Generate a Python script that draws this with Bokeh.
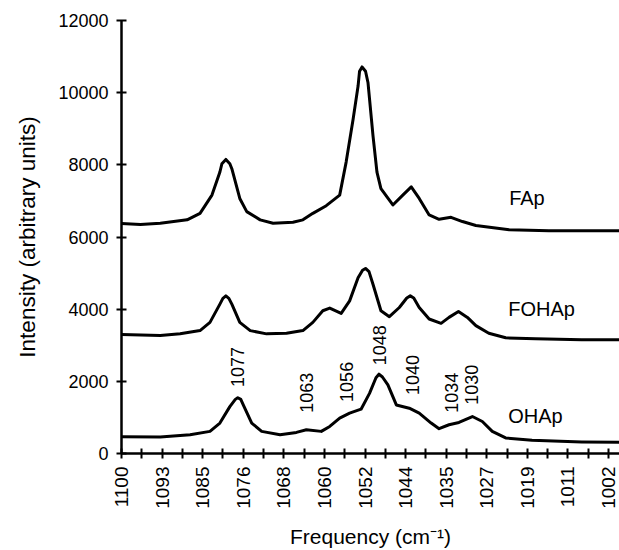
import math
from bokeh.plotting import figure
from bokeh.models import Range1d, FixedTicker
from bokeh.core.properties import value
from bokeh.embed import file_html
from bokeh.resources import INLINE

# ---- data ----
fap_freq = [1100.0, 1096.2, 1092.2, 1086.8, 1084.2, 1081.8, 1080.2, 1079.8, 1079.0, 1078.2, 1077.8,
            1076.2, 1074.8, 1072.1, 1069.5, 1065.5, 1063.5, 1061.5, 1058.8, 1056.1, 1054.8,
            1053.4, 1052.4, 1052.1, 1051.6, 1050.9, 1050.4, 1049.4, 1048.6, 1047.8, 1045.4,
            1043.4, 1041.7, 1040.1, 1038.1, 1036.1, 1033.7, 1031.4, 1028.7, 1022.0, 1014.0, 999.8]
fap_int = [6373, 6345, 6381, 6475, 6656, 7161, 7801, 8030, 8150, 8030, 7892,
           7068, 6703, 6475, 6381, 6409, 6475, 6656, 6868, 7161, 8076,
           9266, 10183, 10595, 10713, 10595, 10274, 8810, 7800, 7343, 6887,
           7161, 7389, 7068, 6612, 6491, 6546, 6428, 6318, 6200, 6172, 6172]

fohap_freq = [1100.0, 1092.2, 1088.2, 1084.2, 1082.2, 1080.2, 1079.6, 1079.0, 1078.4, 1077.8,
              1076.2, 1074.1, 1070.8, 1066.8, 1063.5, 1061.5, 1059.5, 1058.1, 1055.8, 1054.1,
              1052.4, 1051.5, 1050.9, 1050.2, 1049.4, 1047.8, 1046.1, 1044.1, 1042.6, 1041.9,
              1041.2, 1040.1, 1038.1, 1035.7, 1034.1, 1032.2, 1030.4, 1028.7, 1026.1, 1022.7,
              1016.7, 1007.4, 999.8]
fohap_int = [3296, 3269, 3316, 3406, 3634, 4140, 4300, 4368, 4300, 4140,
             3634, 3406, 3316, 3332, 3406, 3634, 3956, 4030, 3881, 4230,
             4870, 5080, 5129, 5040, 4690, 3956, 3791, 4046, 4310, 4368,
             4310, 4046, 3728, 3607, 3772, 3936, 3772, 3544, 3332, 3206,
             3178, 3151, 3151]

ohap_freq = [1100.0, 1092.2, 1086.2, 1082.2, 1080.2, 1078.2, 1077.1, 1076.6, 1076.0, 1075.5,
             1073.8, 1071.8, 1068.1, 1064.8, 1062.8, 1059.8, 1058.1, 1056.1, 1054.1, 1051.8,
             1050.1, 1048.8, 1048.2, 1047.5, 1046.4, 1044.7, 1042.1, 1040.1, 1037.7, 1036.1,
             1034.1, 1032.1, 1029.4, 1027.4, 1025.4, 1022.7, 1017.4, 1007.4, 999.8]
ohap_int = [467, 459, 522, 613, 843, 1299, 1500, 1547, 1500, 1346,
            843, 613, 522, 585, 659, 613, 750, 981, 1118, 1228,
            1667, 2100, 2198, 2120, 1900, 1346, 1255, 1118, 843, 687,
            797, 860, 1025, 887, 613, 431, 365, 321, 310]

series_names = ["FAp", "FOHAp", "OHAp"]
series_label_freq = [1022.0, 1022.2, 1022.2]
series_label_int = [7068, 4015, 1027]

peak_labels = ["1077", "1063", "1056", "1048", "1040", "1034", "1030"]
peak_label_freq = [1076.6, 1062.7, 1054.7, 1048.1, 1041.5, 1033.7, 1029.5]
peak_label_int = [1840, 1128, 1430, 2448, 1623, 1128, 1348]

x_tick_labels = ["1100", "1093", "1085", "1076", "1068", "1060", "1052",
                 "1044", "1035", "1027", "1019", "1011", "1002"]
y_ticks = [0, 2000, 4000, 6000, 8000, 10000, 12000]

FONT = "Liberation Sans"

p = figure(width=619, height=550, output_backend="svg", toolbar_location=None,
           x_range=Range1d(1100, 999.8), y_range=Range1d(0, 12000),
           min_border_left=121, min_border_right=0, min_border_top=20, min_border_bottom=96)
p.outline_line_color = None
p.xgrid.visible = False
p.ygrid.visible = False
p.background_fill_color = "white"
p.border_fill_color = "white"

for fx, fy in [(fap_freq, fap_int), (fohap_freq, fohap_int), (ohap_freq, ohap_int)]:
    p.line(fx, fy, line_color="black", line_width=3, line_join="round")

p.text(x=series_label_freq, y=series_label_int, text=series_names,
       text_font=value(FONT), text_font_size="20px", text_color="black",
       text_align="left", text_baseline="middle")

p.text(x=peak_label_freq, y=peak_label_int, text=peak_labels, angle=math.pi / 2,
       text_font=value(FONT), text_font_size="18px", text_color="black",
       text_align="left", text_baseline="middle")

# x axis ticks: 25 evenly spaced ticks, every other one labelled
step = (1100 - 1002) / 24.0
xt = [round(1100 - i * step, 4) for i in range(25)]
overrides = {}
for i, t in enumerate(xt):
    lab = x_tick_labels[i // 2] if i % 2 == 0 else ""
    overrides[t] = lab
    overrides[str(t)] = lab
p.xaxis.ticker = FixedTicker(ticks=xt)
p.xaxis.major_label_overrides = overrides
p.xaxis.major_label_orientation = math.pi / 2
p.xaxis.axis_label = "Frequency (cm⁻¹)"

p.yaxis.ticker = FixedTicker(ticks=y_ticks)
p.yaxis.axis_label = "Intensity (arbitrary units)"

for ax in (p.xaxis, p.yaxis):
    ax.axis_line_width = 2.5
    ax.axis_line_color = "black"
    ax.major_tick_line_width = 2
    ax.major_tick_line_color = "black"
    ax.major_tick_in = 5
    ax.major_tick_out = 5
    ax.minor_tick_line_color = None
    ax.major_label_text_font = FONT
    ax.major_label_text_color = "black"
    ax.axis_label_text_font = FONT
    ax.axis_label_text_font_style = "normal"
    ax.axis_label_text_color = "black"

p.yaxis.major_label_text_font_size = "18px"
p.xaxis.major_label_text_font_size = "19px"
p.yaxis.axis_label_text_font_size = "22.5px"
p.xaxis.axis_label_text_font_size = "21px"

p.yaxis.major_label_standoff = 8
p.yaxis.axis_label_standoff = 15
p.xaxis.major_label_standoff = 8
p.xaxis.axis_label_standoff = 13

open("out.html", "w").write(file_html(p, INLINE))
